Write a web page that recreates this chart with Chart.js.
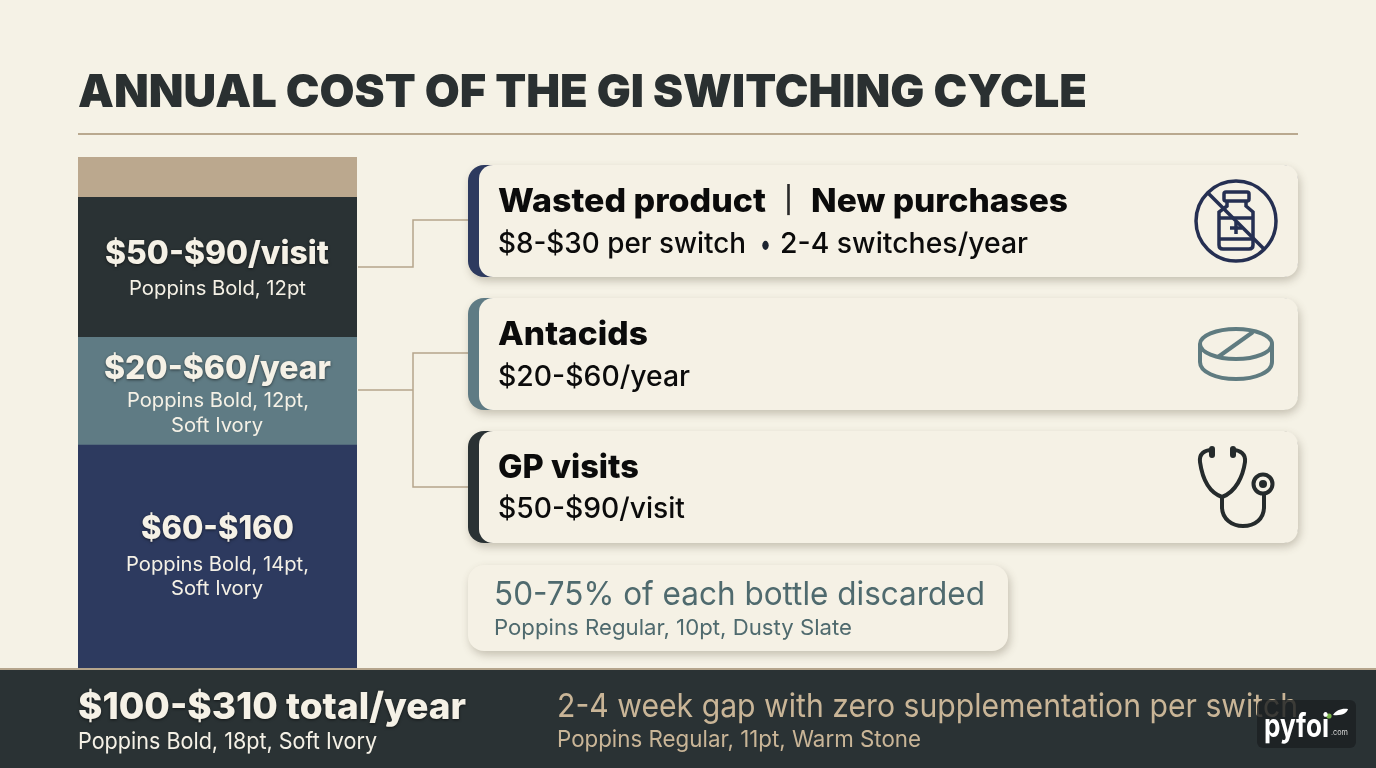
<!DOCTYPE html>
<html>
<head>
<meta charset="utf-8">
<title>Annual cost of the GI switching cycle</title>
<script src="https://cdn.jsdelivr.net/npm/chart.js@4"></script>
<style>
    html, body { margin: 0; padding: 0; }
    body { width: 1376px; height: 768px; overflow: hidden; background: #f5f2e6; position: relative; font-family: Inter, "Noto Sans", sans-serif; }
    .t { position: absolute; white-space: nowrap; line-height: 1; transform-origin: left center; z-index: 1; }
    .glow { text-shadow: 0 1px 3px rgba(0, 0, 0, 0.55); }
    .card { position: absolute; box-sizing: border-box; border-radius: 16px; box-shadow: 2px 4px 8px rgba(90, 80, 60, 0.3); }
    .inner { position: absolute; left: 11px; right: 0; top: 0; bottom: 0; background: #f5f1e5; border-radius: 14px; }
    #barWrap { position: absolute; left: 78px; top: 157px; width: 279px; height: 511px; }
    #rule { position: absolute; left: 78px; top: 133px; width: 1220px; height: 2px; background: #b9a98f; }
    #footer { position: absolute; left: 0; top: 668px; width: 1376px; height: 100px; box-sizing: border-box; background: #2a3234; border-top: 2px solid #b5a58c; }
    #badge { position: absolute; left: 1257px; top: 700px; width: 99px; height: 48px; background: rgba(28, 32, 34, 0.82); border-radius: 6px; z-index: 2; }
    svg { position: absolute; left: 0; top: 0; overflow: visible; }
    #logoMarks { z-index: 3; }
</style>
</head>
<body>
<div id="rule"></div>
<div id="barWrap"><canvas id="costChart" width="279" height="511"></canvas></div>

<svg width="1376" height="768" fill="none">
    <g stroke="#b5a58c" stroke-width="1.5">
        <path d="M358 267H413V220H468"/>
        <path d="M358 390H413M468 353H413V487H468"/>
    </g>
</svg>

<div class="card" style="left:468px;top:165px;width:830px;height:112px;background:#2d3a5f"><div class="inner"></div></div>
<div class="card" style="left:468px;top:298px;width:830px;height:112px;background:#5f7b84"><div class="inner"></div></div>
<div class="card" style="left:468px;top:431px;width:830px;height:112px;background:#2a3234"><div class="inner"></div></div>
<div class="card" style="left:468px;top:565px;width:540px;height:86px;background:#f5f1e5"></div>
<div id="footer"></div>
<div id="badge"></div>

<svg width="1376" height="768" fill="none">
    <g stroke="#252f52" stroke-width="3.5">
        <circle cx="1236" cy="221" r="40"/>
        <rect x="1224" y="192" width="25" height="9" rx="2"/>
        <path d="M1227 201V206L1219 212V245Q1219 249 1223 249H1249Q1253 249 1253 245V212L1246 206V201"/>
        <path d="M1219 218H1253M1219 239H1253M1236 222V234M1230 228H1242"/>
        <path d="M1208 193L1264 249"/>
    </g>
    <g stroke="#5f7b80" stroke-width="4">
        <ellipse cx="1236" cy="344" rx="36" ry="15"/>
        <path d="M1200 344V362C1200 372 1216 379 1236 379C1256 379 1272 372 1272 362V344"/>
        <path d="M1218 357L1253 332"/>
    </g>
    <g stroke="#252b2c" stroke-width="4" stroke-linecap="round">
        <path d="M1212 450C1204 450 1199 454 1200 462C1202 476 1208 492 1222 497C1236 492 1243 476 1245 462C1246 454 1240 450 1233 450"/>
        <path d="M1222 497V507C1222 519 1232 526 1243 526C1255 526 1264 519 1264 507V494"/>
        <circle cx="1263" cy="484" r="9.5"/>
    </g>
    <circle cx="1263" cy="484" r="4" fill="#252b2c"/>
    <path d="M1212 449V455M1233 449V455" stroke="#252b2c" stroke-width="6" stroke-linecap="round"/>
</svg>
<svg id="logoMarks" width="1376" height="768" fill="none">
    <circle cx="1329" cy="716" r="2.6" fill="#7ab648"/>
    <path d="M1333 715C1336 710 1342 708 1348 709C1347 713 1342 716 1333 715Z" fill="#ffffff"/>
</svg>

<script>
// cost stack, bottom to top
const segmentLabels = ['$60-$160', '$20-$60/year', '$50-$90/visit', 'Remainder'];
const segmentShares = [43.6, 21.1, 27.4, 7.9];
const segmentColors = ['#2d3a5f', '#5f7b84', '#2a3234', '#bba88e'];
const stackCategories = ['Annual cost'];

const IVORY = '#f5f1e6';
const STONE = '#c9b597';
const SLATE = '#4f6a6e';
const BLACK = '#0b0b0b';

// text, x, target width, centre y, font size, weight, colour, extra class
const texts = [
    ['ANNUAL COST OF THE GI SWITCHING CYCLE', 78, 1009, 90, 46, 900, '#2a3031'],
    ['$50-$90/visit', 105, 224, 253, 32, 800, IVORY, 'glow'],
    ['Poppins Bold, 12pt', 129, 177, 288, 20, 400, IVORY],
    ['$20-$60/year', 104, 227, 368, 32, 800, IVORY, 'glow'],
    ['Poppins Bold, 12pt,', 127, 182, 400, 20, 400, IVORY],
    ['Soft Ivory', 171, 92, 425, 20, 400, IVORY],
    ['$60-$160', 141, 153, 528, 32, 800, IVORY, 'glow'],
    ['Poppins Bold, 14pt,', 126, 183, 564, 20, 400, IVORY],
    ['Soft Ivory', 171, 92, 588, 20, 400, IVORY],
    ['Wasted product', 498, 268, 200, 33, 800, BLACK],
    ['|', 785, 7, 200, 26, 700, '#2a2a2a'],
    ['New purchases', 811, 257, 200, 33, 800, BLACK],
    ['$8-$30 per switch', 498, 248, 243, 28, 500, BLACK],
    ['•', 760, 11, 243, 30, 500, '#1c2430'],
    ['2-4 switches/year', 780, 248, 243, 28, 500, BLACK],
    ['Antacids', 498, 150, 333, 33, 800, BLACK],
    ['$20-$60/year', 498, 192, 376, 28, 500, BLACK],
    ['GP visits', 498, 141, 466, 33, 800, BLACK],
    ['$50-$90/visit', 498, 187, 508, 28, 500, BLACK],
    ['50-75% of each bottle discarded', 494, 491, 593, 33, 400, SLATE],
    ['Poppins Regular, 10pt, Dusty Slate', 494, 358, 627, 22, 400, SLATE],
    ['$100-$310 total/year', 78, 388, 705, 37, 800, IVORY, 'glow'],
    ['Poppins Bold, 18pt, Soft Ivory', 78, 299, 741, 23, 400, IVORY],
    ['2-4 week gap with zero supplementation per switch', 557, 741, 705, 33, 400, STONE],
    ['Poppins Regular, 11pt, Warm Stone', 557, 364, 739, 23, 400, STONE],
    ['pyfoi', 1264, 65, 726, 32, 700, '#ffffff', 'logo'],
    ['.com', 1331, 17, 732, 8, 400, '#d8d8d8', 'logo']
];

function addText(item) {
    const [text, x, width, y, size, weight, color, extra] = item;
    const el = document.createElement('div');
    el.className = 't' + (extra ? ' ' + extra : '');
    el.textContent = text;
    el.style.left = x + 'px';
    el.style.fontSize = size + 'px';
    el.style.fontWeight = weight;
    el.style.color = color;
    if (extra === 'logo') el.style.zIndex = 3;
    document.body.appendChild(el);
    // squeeze to the width measured on the reference
    const natural = el.getBoundingClientRect().width;
    el.style.top = (y - el.offsetHeight / 2) + 'px';
    el.style.transform = `scaleX(${width / natural})`;
}
texts.forEach(addText);

const datasets = segmentLabels.map((label, i) => ({
    label: label,
    data: [segmentShares[i]],
    backgroundColor: segmentColors[i],
    borderWidth: 0,
    barPercentage: 1,
    categoryPercentage: 1
}));

new Chart(document.getElementById('costChart').getContext('2d'), {
    type: 'bar',
    data: { labels: stackCategories, datasets: datasets },
    options: {
        responsive: false,
        animation: false,
        layout: { padding: 0 },
        plugins: { legend: { display: false }, tooltip: { enabled: false } },
        scales: {
            x: { stacked: true, display: false },
            y: {
                stacked: true,
                display: false,
                min: 0,
                max: segmentShares.reduce((a, b) => a + b, 0)
            }
        }
    }
});
</script>
</body>
</html>
